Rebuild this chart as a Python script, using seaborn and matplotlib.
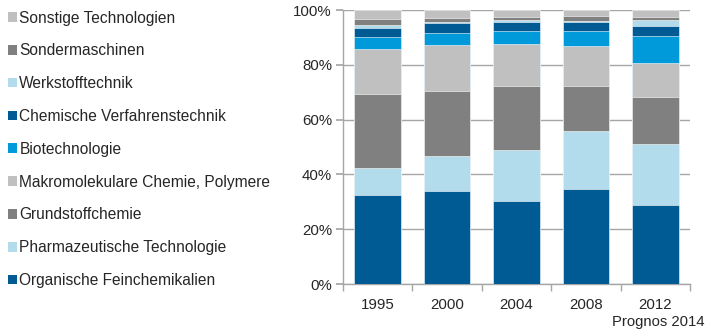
import matplotlib
matplotlib.use("Agg")
import matplotlib.pyplot as plt
import matplotlib.patches as mpatches
import seaborn as sns
import pandas as pd
import numpy as np

years = ["1995", "2000", "2004", "2008", "2012"]
series = [
    "Organische Feinchemikalien",
    "Pharmazeutische Technologie",
    "Grundstoffchemie",
    "Makromolekulare Chemie, Polymere",
    "Biotechnologie",
    "Chemische Verfahrenstechnik",
    "Werkstofftechnik",
    "Sondermaschinen",
    "Sonstige Technologien",
]
organische = [32.4, 33.9, 30.3, 34.6, 28.7]
pharma = [10.0, 12.8, 18.6, 21.2, 22.3]
grundstoff = [26.9, 23.9, 23.4, 16.5, 17.2]
makro = [16.6, 16.6, 15.3, 14.4, 12.4]
biotech = [4.2, 4.5, 4.6, 5.8, 10.0]
chemverf = [3.5, 3.4, 3.6, 3.0, 3.4]
werkstoff = [0.8, 0.7, 0.5, 0.6, 2.2]
sonder = [2.2, 1.3, 1.2, 1.8, 1.3]
sonstige = [3.4, 2.9, 2.5, 2.1, 2.5]
values = [organische, pharma, grundstoff, makro, biotech, chemverf, werkstoff, sonder, sonstige]
colors = ["#005A94", "#B2DCEB", "#808080", "#C0C0C0", "#009ADA",
          "#005A94", "#B2DCEB", "#808080", "#C0C0C0"]

sns.set_theme(style="white")
plt.rcParams["font.family"] = ["Liberation Sans", "DejaVu Sans"]
text_color = "#262626"

fig = plt.figure(figsize=(7.09, 3.32), dpi=100)
ax = fig.add_axes([343 / 709, 1 - 284 / 332, 347 / 709, 274 / 332])

cum = np.cumsum(np.array(values), axis=0)
for i in reversed(range(len(series))):
    df = pd.DataFrame({"year": years, "val": cum[i]})
    sns.barplot(data=df, x="year", y="val", color=colors[i], saturation=1,
                width=0.67, edgecolor="white", linewidth=0.4, ax=ax, zorder=3)

ax.set_ylim(0, 100)
ax.set_xlim(-0.5, 4.5)
ax.set_yticks([0, 20, 40, 60, 80, 100])
ax.set_yticklabels(["0%", "20%", "40%", "60%", "80%", "100%"])
ax.set_xlabel("")
ax.set_ylabel("")
ax.yaxis.grid(True, color="#A6A6A6", linewidth=1.0, zorder=0)
ax.set_axisbelow(True)
for s in ["top", "right"]:
    ax.spines[s].set_visible(False)
for s in ["left", "bottom"]:
    ax.spines[s].set_color("#A6A6A6")
    ax.spines[s].set_linewidth(1.0)
ax.tick_params(axis="y", which="both", left=True, length=5, color="#A6A6A6",
               labelsize=10.8, labelcolor=text_color, pad=3)
ax.tick_params(axis="x", bottom=False, labelsize=10.8, labelcolor=text_color, pad=4)
ax.set_xticks(np.arange(-0.5, 5.0, 1.0), minor=True)
ax.tick_params(axis="x", which="minor", bottom=True, length=5, color="#A6A6A6")

handles = [mpatches.Patch(facecolor=colors[i], edgecolor="none") for i in reversed(range(len(series)))]
labels = list(reversed(series))
leg = fig.legend(handles, labels, loc="upper left", bbox_to_anchor=(8 / 709, 1 - 10.5 / 332),
                 frameon=False, fontsize=11.2, handlelength=0.58, handleheight=0.58,
                 handletextpad=0.15, labelspacing=1.145, borderaxespad=0, borderpad=0)
for t in leg.get_texts():
    t.set_color(text_color)

fig.text(0.994, 0.01, "Prognos 2014", ha="right", va="bottom", fontsize=10.7, color=text_color)

fig.savefig("out.png", dpi=100)
